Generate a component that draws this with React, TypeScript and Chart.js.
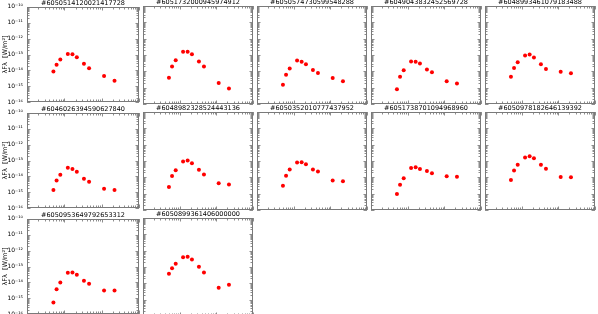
import React, { useEffect, useRef } from "react";
import { Chart, registerables } from "chart.js";

Chart.register(...registerables);

// ---------- data ----------
const wavelengths = [0.51, 0.62, 0.78, 1.24, 1.65, 2.16, 3.35, 4.6, 11.6, 22.1];
const relErrors = [0.04, 0.04, 0.04, 0.08, 0.08, 0.08, 0.2, 0.2, 0.2, 0.06];

const titles = [
  "#6050514120021417728",
  "#6051732000945974912",
  "#6050574730599548288",
  "#6049043832452569728",
  "#6048993461079183488",
  "#6046026394590627840",
  "#6048982328524443136",
  "#6050352010777437952",
  "#6051738701094968960",
  "#6050978182646139392",
  "#6050953649792653312",
  "#6050899361406000000",
];

const flux01 = [8.7e-15, 2.3e-14, 4.8e-14, 1.07e-13, 1.02e-13, 6.8e-14, 2.6e-14, 1.4e-14, 4.5e-15, 2.3e-15];
const flux02 = [4.1e-15, 1.95e-14, 4.8e-14, 1.6e-13, 1.6e-13, 1.1e-13, 4.0e-14, 1.95e-14, 1.9e-15, 8.9e-16];
const flux03 = [1.5e-15, 6.2e-15, 1.5e-14, 4.6e-14, 3.8e-14, 2.7e-14, 1.2e-14, 7.9e-15, 3.9e-15, 2.5e-15];
const flux04 = [8.1e-16, 4.7e-15, 1.15e-14, 4.0e-14, 3.8e-14, 3.0e-14, 1.3e-14, 8.7e-15, 2.5e-15, 1.8e-15];
const flux05 = [4.7e-15, 1.6e-14, 3.6e-14, 9.3e-14, 1.07e-13, 7.1e-14, 2.7e-14, 1.4e-14, 9.5e-15, 7.6e-15];
const flux06 = [1.4e-15, 5.5e-15, 1.3e-14, 3.5e-14, 2.9e-14, 1.95e-14, 7.1e-15, 4.6e-15, 1.7e-15, 1.4e-15];
const flux07 = [2.6e-15, 1.2e-14, 2.75e-14, 9.3e-14, 1.07e-13, 7.2e-14, 2.9e-14, 1.5e-14, 4.4e-15, 3.7e-15];
const flux08 = [3.0e-15, 1.26e-14, 3.0e-14, 8.1e-14, 8.5e-14, 6.3e-14, 3.0e-14, 2.3e-14, 6.5e-15, 5.8e-15];
const flux09 = [9.5e-16, 3.5e-15, 8.9e-15, 3.7e-14, 4.1e-14, 3.2e-14, 2.4e-14, 1.8e-14, 1.15e-14, 1.1e-14];
const flux10 = [6.8e-15, 2.6e-14, 5.8e-14, 1.66e-13, 1.95e-13, 1.45e-13, 5.8e-14, 3.4e-14, 1.05e-14, 1.0e-14];
const flux11 = [5.5e-16, 3.7e-15, 1.0e-14, 4.0e-14, 4.2e-14, 3.0e-14, 1.3e-14, 8.3e-15, 3.1e-15, 3.1e-15];
const flux12 = [3.8e-14, 8.5e-14, 1.6e-13, 3.9e-13, 4.3e-13, 2.9e-13, 1.02e-13, 4.6e-14, 5.4e-15, 8.3e-15];

const fluxes = [flux01, flux02, flux03, flux04, flux05, flux06, flux07, flux08, flux09, flux10, flux11, flux12];

const yTickValues = [1e-16, 1e-15, 1e-14, 1e-13, 1e-12, 1e-11, 1e-10];
const yTickLabels = ["10⁻¹⁶", "10⁻¹⁵", "10⁻¹⁴", "10⁻¹³", "10⁻¹²", "10⁻¹¹", "10⁻¹⁰"];
const yAxisLabel = "λFλ  [W/m²]";
const xRange = [0.1, 100];
const yRange = [1e-16, 1e-10];

// ---------- layout ----------
const COL_LEFT = [27, 141, 255, 369, 483];
const ROW_TOP = [6, 112, 218];
const PLOT_W = 114;
const PLOT_H = 98;
const TITLE_H = 7;
const FONT = "'DejaVu Sans', sans-serif";

function makeFramePlugin(values: number[]) {
  return {
    id: "frameTicks",
    beforeDatasetsDraw(chart: any) {
      const { ctx, chartArea } = chart;
      const xs = chart.scales.x;
      const ys = chart.scales.y;
      const L = Math.round(chartArea.left);
      const R = Math.round(chartArea.right);
      const T = Math.round(chartArea.top);
      const B = Math.round(chartArea.bottom);
      ctx.save();
      ctx.lineWidth = 1;
      ctx.strokeStyle = "#8c8c8c";
      // x ticks (log minor)
      for (let e = Math.floor(Math.log10(xRange[0])); e <= Math.ceil(Math.log10(xRange[1])); e++) {
        for (let m = 1; m <= 9; m++) {
          const v = m * Math.pow(10, e);
          if (v < xRange[0] * 0.999 || v > xRange[1] * 1.001) continue;
          const px = Math.round(xs.getPixelForValue(v)) + 0.5;
          const len = m === 1 ? 3.5 : 2.5;
          ctx.beginPath();
          ctx.moveTo(px, T);
          ctx.lineTo(px, T + len);
          ctx.moveTo(px, B);
          ctx.lineTo(px, B - len);
          ctx.stroke();
        }
      }
      // y ticks
      for (let e = Math.round(Math.log10(yRange[0])); e <= Math.round(Math.log10(yRange[1])); e++) {
        for (let m = 1; m <= 9; m++) {
          const v = m * Math.pow(10, e);
          if (v < yRange[0] * 0.999 || v > yRange[1] * 1.001) continue;
          const py = Math.round(ys.getPixelForValue(v)) + 0.5;
          const len = m === 1 ? 3.5 : 2.5;
          ctx.beginPath();
          ctx.moveTo(L, py);
          ctx.lineTo(L + len, py);
          ctx.moveTo(R, py);
          ctx.lineTo(R - len, py);
          ctx.stroke();
        }
      }
      // frame
      ctx.strokeStyle = "#7a7a7a";
      ctx.strokeRect(L + 0.5, T + 0.5, R - L - 1, B - T - 1);
      // error bars
      ctx.strokeStyle = "rgba(255,90,90,0.6)";
      values.forEach((v, i) => {
        const px = Math.round(xs.getPixelForValue(wavelengths[i])) + 0.5;
        const e = relErrors[i];
        ctx.beginPath();
        ctx.moveTo(px, ys.getPixelForValue(v * (1 + e)));
        ctx.lineTo(px, ys.getPixelForValue(v * (1 - e)));
        ctx.stroke();
      });
      ctx.restore();
    },
  };
}

function Panel({ index }: { index: number }) {
  const ref = useRef<HTMLCanvasElement>(null);
  const col = index % 5;
  const row = Math.floor(index / 5);
  const first = col === 0;
  const padL = first ? 0 : 2;
  const yW = first ? 27 : 0;
  const padR = 2;
  const padB = 6;
  const width = padL + yW + PLOT_W + padR;
  const height = TITLE_H + PLOT_H + padB;
  const left = COL_LEFT[col] - yW - padL;
  const top = ROW_TOP[row] - TITLE_H;

  useEffect(() => {
    if (!ref.current) return;
    const values = fluxes[index];
    const chart = new Chart(ref.current, {
      type: "scatter",
      data: {
        datasets: [
          {
            data: values.map((v, i) => ({ x: wavelengths[i], y: v })),
            pointRadius: 2,
            pointBackgroundColor: "#ff0000",
            pointBorderWidth: 0,
            showLine: false,
          },
        ],
      },
      options: {
        animation: false,
        responsive: false,
        events: [],
        layout: { padding: { left: padL, right: padR, top: 0, bottom: padB } },
        plugins: {
          legend: { display: false },
          tooltip: { enabled: false },
          title: {
            display: true,
            fullSize: false,
            text: titles[index],
            color: "#000",
            font: { family: FONT, size: 6.5, lineHeight: 1, weight: "normal" },
            padding: { top: 0.5, bottom: 0 },
          },
        },
        scales: {
          x: {
            type: "logarithmic",
            min: xRange[0],
            max: xRange[1],
            display: false,
          },
          y: {
            type: "logarithmic",
            min: yRange[0],
            max: yRange[1],
            display: first,
            afterFit: (s: any) => {
              s.width = yW;
            },
            afterBuildTicks: (s: any) => {
              s.ticks = yTickValues.map((v) => ({ value: v }));
            },
            grid: { display: false, drawTicks: false },
            border: { display: false },
            ticks: {
              autoSkip: false,
              padding: 4,
              color: "#000",
              font: { family: FONT, size: 6 },
              callback: (v: any) => {
                const k = yTickValues.findIndex(
                  (t) => Math.abs(Math.log10(t) - Math.log10(Number(v))) < 1e-6
                );
                return k >= 0 ? yTickLabels[k] : "";
              },
            },
            title: {
              display: true,
              text: yAxisLabel,
              color: "#000",
              font: { family: FONT, size: 6.5 },
              padding: { top: 1.5, bottom: 0 },
            },
          },
        },
      },
      plugins: [makeFramePlugin(values)],
    } as any);
    return () => chart.destroy();
  }, [index]);

  return (
    <canvas
      ref={ref}
      width={width}
      height={height}
      style={{ position: "absolute", left, top, width, height }}
    />
  );
}

export default function App() {
  return (
    <div
      style={{
        position: "fixed",
        left: 0,
        top: 0,
        width: 598,
        height: 314,
        overflow: "hidden",
        background: "#fff",
      }}
    >
      {titles.map((_, i) => (
        <Panel key={i} index={i} />
      ))}
    </div>
  );
}
